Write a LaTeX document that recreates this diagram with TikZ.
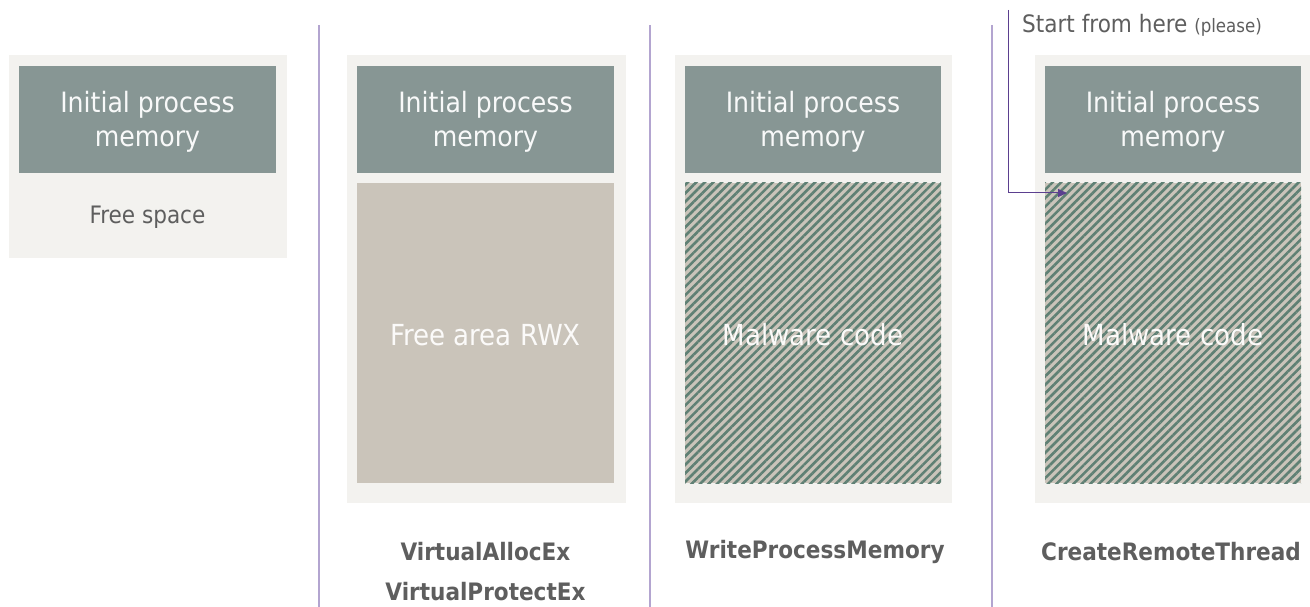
\documentclass[tikz,border=0pt]{standalone}
\usepackage{fontspec}
\setmainfont{DejaVu Sans Condensed}
\usetikzlibrary{patterns.meta,arrows.meta}
\definecolor{panel}{HTML}{F3F2EF}
\definecolor{head}{HTML}{879694}
\definecolor{freearea}{HTML}{CAC4BA}
\definecolor{stripe}{HTML}{5F8074}
\definecolor{txt}{HTML}{5E5E5E}
\definecolor{sep}{HTML}{B3A5D0}
\definecolor{arr}{HTML}{5B3F8F}
\begin{document}
\begin{tikzpicture}[x=1pt,y=-1pt,
  panelbox/.style={fill=panel,draw=none},
  headbox/.style={fill=head,draw=none},
  headtxt/.style={text=white!94!head,align=center,font=\fontsize{28}{34}\selectfont},
  freebox/.style={fill=freearea,draw=none},
  hatchbox/.style={fill=freearea,draw=none,postaction={pattern={Lines[angle=45,distance=6pt,line width=2.6pt]},pattern color=stripe}},
  bigtxt/.style={text=white!92!freearea,font=\fontsize{29}{34}\selectfont},
  apitxt/.style={text=txt,font=\bfseries\fontsize{24}{40}\selectfont,align=center},
  seprule/.style={draw=sep,line width=1.2pt}]
\useasboundingbox (0,0) rectangle (1310,607);
% separators
\coordinate (s1t) at (319,25); \coordinate (s1b) at (319,607);
\coordinate (s2t) at (650,25); \coordinate (s2b) at (650,607);
\coordinate (s3t) at (992,25); \coordinate (s3b) at (992,607);
\draw[seprule] (s1t) -- (s1b);
\draw[seprule] (s2t) -- (s2b);
\draw[seprule] (s3t) -- (s3b);
% column 1
\fill[panelbox] (9,55) rectangle (287,258);
\fill[headbox] (19,66) rectangle (276,173);
\node[headtxt] (h1) at (147.5,122) {Initial process\\memory};
\node[text=txt,font=\fontsize{24}{28}\selectfont] (f1) at (147.5,217) {Free space};
% column 2
\fill[panelbox] (347,55) rectangle (626,503);
\fill[headbox] (357,66) rectangle (614,173);
\node[headtxt] (h2) at (485.5,122) {Initial process\\memory};
\fill[freebox] (357,183) rectangle (614,483);
\node[bigtxt] (f2) at (485.5,335) {Free area RWX};
\node[apitxt] (a2) at (485.5,572) {VirtualAllocEx\\VirtualProtectEx};
% column 3
\fill[panelbox] (675,55) rectangle (952,503);
\fill[headbox] (685,66) rectangle (941,173);
\node[headtxt] (h3) at (813,122) {Initial process\\memory};
\path[hatchbox] (685,183) rectangle (941,483);
\node[bigtxt] (m3) at (813,335) {Malware code};
\node[apitxt] (a3) at (815,552) {WriteProcessMemory};
% column 4
\fill[panelbox] (1035,55) rectangle (1312,503);
\fill[headbox] (1045,66) rectangle (1301,173);
\node[headtxt] (h4) at (1173,122) {Initial process\\memory};
\path[hatchbox] (1045,183) rectangle (1301,483);
\coordinate (hatchtl) at (1067,193);
\node[bigtxt] (m4) at (1173,335) {Malware code};
\node[apitxt] (a4) at (1171,552) {CreateRemoteThread};
% start label and arrow
\node[anchor=west,text=txt,inner sep=0pt,font=\fontsize{24}{26}\selectfont] (start) at (1022,25) {Start from here {\fontsize{18.5}{20}\selectfont(please)}};
\coordinate (arrtop) at (1008,10);
\draw[draw=arr,line width=1pt,-{Triangle[length=9pt,width=8pt]}] (arrtop) |- (hatchtl);
\end{tikzpicture}
\end{document}
